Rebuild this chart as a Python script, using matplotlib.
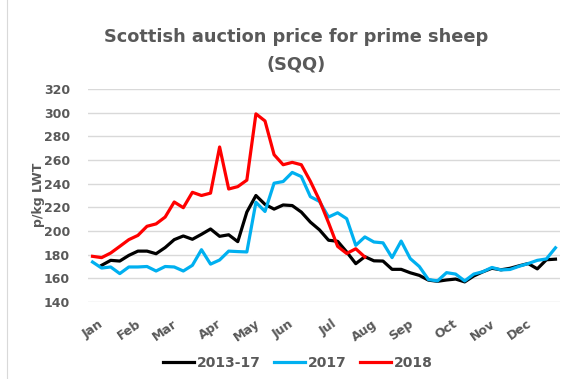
import numpy as np
import matplotlib.pyplot as plt
from matplotlib.lines import Line2D

plt.rcParams['font.family'] = ['DejaVu Sans']
plt.rcParams['font.weight'] = 'bold'

# weekly prices, p/kg LWT (week 1 .. week 52)
avg_2013_17 = [np.nan, 171, 175.2, 174.6, 179.4, 183, 183, 180.8, 186, 192.7,
               195.8, 193, 197.2, 201.7, 195.5, 196.8, 191, 216, 230, 222.5,
               218.5, 222, 221.5, 216, 207.5, 201, 192.2, 191.3, 182.3, 172.4,
               178.3, 174.8, 174.6, 167.6, 167.6, 164.7, 162.5, 158.5, 157.5, 158.6,
               159.4, 157, 162, 165.5, 168.5, 167.2, 168.5, 170.6, 172.5, 168,
               175.7, 176.2]
price_2017 = [173.8, 168.7, 169.6, 164, 169.6, 169.6, 170, 166.2, 170, 169.6,
              166.2, 171, 184.2, 172, 175.5, 183, 182.6, 182.3, 224.3, 216.5,
              240.4, 241.8, 249.5, 246, 229, 225, 211.8, 215.4, 210.4, 187.9,
              195, 190.7, 190, 177.5, 191.5, 176.7, 170, 159, 157.8, 164.8,
              163.6, 157.8, 163.6, 165.6, 169.2, 167.1, 167.5, 170.2, 172.5, 175.2,
              176.4, 185.8]
price_2018 = [178.6, 177.5, 181.4, 187, 192.7, 196.3, 204, 206, 211.8, 224.5,
              219.7, 232.7, 230, 232, 271, 235.5, 237.5, 243, 299, 293,
              264.5, 256, 258, 256, 242, 226, 207, 187, 181, 185,
              178]

months = ['Jan', 'Feb', 'Mar', 'Apr', 'May', 'Jun',
          'Jul', 'Aug', 'Sep', 'Oct', 'Nov', 'Dec']
month_weeks = [0, 4, 8, 13, 17, 21, 26, 30, 34, 39, 43, 47]

grey = '#595959'

fig = plt.figure(figsize=(5.78, 3.79), dpi=100)
ax = fig.add_axes([88 / 578, 1 - 302 / 379, 472 / 578, 213 / 379])

ax.plot(np.arange(len(avg_2013_17)), avg_2013_17, color='black', lw=2.3, label='2013-17')
ax.plot(np.arange(len(price_2017)), price_2017, color='#00B0F0', lw=2.3, label='2017')
ax.plot(np.arange(len(price_2018)), price_2018, color='#FF0000', lw=2.3, label='2018')

ax.set_xlim(-0.5, 51.5)
ax.set_ylim(140, 320)
ax.set_yticks(np.arange(140, 321, 20))
ax.set_xticks(month_weeks)
ax.set_xticklabels(months, rotation=35, ha='center', va='top')

ax.grid(axis='y', color='#d9d9d9', lw=1)
ax.set_axisbelow(True)
for s in ax.spines.values():
    s.set_visible(False)
ax.tick_params(axis='y', length=0, pad=13, labelsize=9, labelcolor=grey)
ax.tick_params(axis='x', length=0, pad=11, labelsize=9, labelcolor=grey)

ax.set_ylabel('p/kg LWT', fontsize=9, color=grey, fontweight='bold')
ax.yaxis.set_label_coords(-0.092, 0.505)

fig.text(296 / 578, 1 - 37 / 379, 'Scottish auction price for prime sheep',
         ha='center', va='center', fontsize=12.8, fontweight='bold', color=grey)
fig.text(296 / 578, 1 - 64 / 379, '(SQQ)',
         ha='center', va='center', fontsize=12.8, fontweight='bold', color=grey)

leg = fig.legend(loc='center', bbox_to_anchor=(298 / 578, 1 - 363 / 379), ncol=3,
                 frameon=False, fontsize=10, handlelength=2.2, handletextpad=0.2,
                 columnspacing=1.0)
for t in leg.get_texts():
    t.set_color(grey)

# thin chart-area border on the left
fig.add_artist(Line2D([7 / 578, 7 / 578], [0, 1], color='#d9d9d9', lw=0.8))

fig.savefig('out.png', dpi=100, facecolor='white')
